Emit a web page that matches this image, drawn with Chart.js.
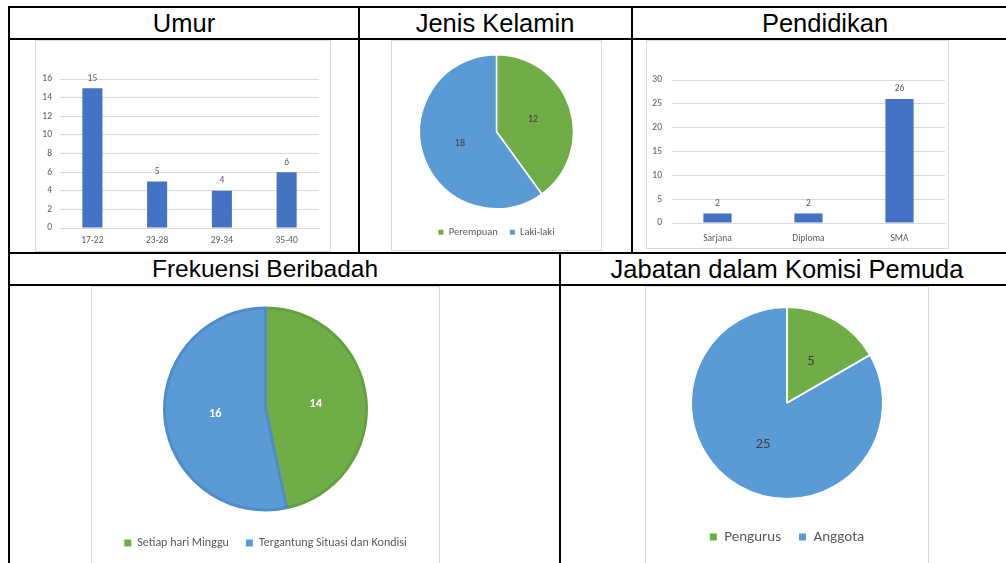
<!DOCTYPE html>
<html>
<head>
<meta charset="utf-8">
<script src="https://cdn.jsdelivr.net/npm/chart.js@4.4.1/dist/chart.umd.min.js"></script>
<style>
  html, body { margin: 0; padding: 0; background: #fff; }
  body { width: 1006px; height: 563px; position: relative; overflow: hidden; font-family: "Liberation Sans", Arial, sans-serif; }
  .ln { position: absolute; background: #000; }
  .title { position: absolute; width: 420px; height: 30px; line-height: 30px; text-align: center; font-size: 25.5px; color: #000; white-space: nowrap; }
  .box { position: absolute; box-sizing: border-box; border: 1px solid #d9d9d9; background: #fff; }
  .box canvas { display: block; }
</style>
</head>
<body>
<!-- table lines -->
<div class="ln" style="left:8px;top:6px;width:1010px;height:2px"></div>
<div class="ln" style="left:8px;top:38px;width:1010px;height:2px"></div>
<div class="ln" style="left:8px;top:252px;width:1010px;height:2px"></div>
<div class="ln" style="left:8px;top:284px;width:1010px;height:2px"></div>
<div class="ln" style="left:8px;top:6px;width:2px;height:560px"></div>
<div class="ln" style="left:358px;top:6px;width:2px;height:248px"></div>
<div class="ln" style="left:631px;top:6px;width:2px;height:248px"></div>
<div class="ln" style="left:559px;top:252px;width:2px;height:314px"></div>

<!-- headers -->
<div class="title" style="left:-26px;top:8px">Umur</div>
<div class="title" style="left:285px;top:8px">Jenis Kelamin</div>
<div class="title" style="left:615px;top:8px">Pendidikan</div>
<div class="title" style="left:55px;top:254px;font-size:24.5px">Frekuensi Beribadah</div>
<div class="title" style="left:577px;top:254px">Jabatan dalam Komisi Pemuda</div>

<!-- chart boxes -->
<div class="box" style="left:35px;top:40px;width:296px;height:212px"><canvas id="umurChart"></canvas></div>
<div class="box" style="left:391px;top:40px;width:211px;height:211px"><canvas id="kelaminChart"></canvas></div>
<div class="box" style="left:646px;top:40px;width:303px;height:209px"><canvas id="pendidikanChart"></canvas></div>
<div class="box" style="left:91px;top:286px;width:349px;height:290px"><canvas id="ibadahChart"></canvas></div>
<div class="box" style="left:645px;top:286px;width:284px;height:290px"><canvas id="jabatanChart"></canvas></div>

<script>
// Data
const umurLabels = ['17-22', '23-28', '29-34', '35-40'];
const umurValues = [15, 5, 4, 6];

const kelaminLabels = ['Perempuan', 'Laki-laki'];
const kelaminValues = [12, 18];

const pendidikanLabels = ['Sarjana', 'Diploma', 'SMA'];
const pendidikanValues = [2, 2, 26];

const ibadahLabels = ['Setiap hari Minggu', 'Tergantung Situasi dan Kondisi'];
const ibadahValues = [14, 16];

const jabatanLabels = ['Pengurus', 'Anggota'];
const jabatanValues = [5, 25];

// Colors
const barBlue = '#4472C4';
const green = '#70AD47';
const blue = '#5B9BD5';
const gridColor = '#d9d9d9';
const textGray = '#595959';
const chartFont = 'Carlito, Lato, "Open Sans", sans-serif';

Chart.defaults.font.family = chartFont;
Chart.defaults.color = textGray;
Chart.defaults.animation = false;
Chart.defaults.maintainAspectRatio = false;
Chart.defaults.plugins.tooltip.enabled = false;

// draws the value on each bar / slice
const valueLabels = {
    id: 'valueLabels',
    afterDatasetsDraw(chart, args, opts) {
        const ctx = chart.ctx;
        const meta = chart.getDatasetMeta(0);
        const data = chart.data.datasets[0].data;
        ctx.save();
        ctx.font = (opts.weight || 'normal') + ' ' + opts.size + 'px ' + chartFont;
        ctx.fillStyle = opts.color;
        ctx.textAlign = 'center';
        ctx.textBaseline = 'middle';
        meta.data.forEach((el, i) => {
            let pos;
            if (chart.config.type === 'bar') {
                pos = { x: el.x, y: el.y - opts.offset };
            } else {
                pos = el.tooltipPosition(true);
            }
            ctx.fillText(data[i], pos.x, pos.y);
        });
        ctx.restore();
    }
};
Chart.register(valueLabels);

// legend boxes without border
function plainLabels(chart) {
    const items = Chart.overrides.pie.plugins.legend.labels.generateLabels(chart);
    return items.map(it => Object.assign(it, { lineWidth: 0, strokeStyle: 'rgba(0,0,0,0)' }));
}

function barChart(id, labels, values, yMax, yStep, opts) {
    return new Chart(document.getElementById(id), {
        type: 'bar',
        data: {
            labels: labels,
            datasets: [{
                data: values,
                backgroundColor: barBlue,
                categoryPercentage: 1,
                barPercentage: 0.31
            }]
        },
        options: {
            layout: { padding: opts.padding },
            plugins: {
                legend: { display: false },
                valueLabels: { color: textGray, size: opts.font, offset: 10 }
            },
            scales: {
                x: {
                    grid: { display: false, drawTicks: false },
                    border: { color: gridColor },
                    ticks: { font: { size: opts.font }, padding: opts.xPad },
                    afterFit: s => { s.height = opts.xHeight; }
                },
                y: {
                    min: 0,
                    max: yMax,
                    border: { display: false },
                    grid: { color: gridColor, drawTicks: false },
                    ticks: { stepSize: yStep, font: { size: opts.font }, padding: opts.yPad },
                    afterFit: s => { s.width = opts.yWidth; }
                }
            }
        }
    });
}

function pieChart(id, labels, values, opts) {
    return new Chart(document.getElementById(id), {
        type: 'pie',
        data: {
            labels: labels,
            datasets: [{
                data: values,
                backgroundColor: [green, blue],
                borderColor: opts.borderColor,
                borderWidth: opts.borderWidth
            }]
        },
        options: {
            radius: opts.radius,
            layout: { padding: opts.padding },
            plugins: {
                legend: {
                    position: 'bottom',
                    labels: {
                        boxWidth: opts.box,
                        boxHeight: opts.box,
                        padding: opts.legendPad,
                        color: textGray,
                        font: { size: opts.legendFont },
                        generateLabels: plainLabels
                    }
                },
                valueLabels: { color: opts.labelColor, size: opts.labelFont, weight: opts.labelWeight }
            }
        }
    });
}

barChart('umurChart', umurLabels, umurValues, 16, 2, {
    padding: { top: 38, right: 11, left: 0, bottom: 0 },
    font: 9.5, xPad: 7, yPad: 8, xHeight: 23, yWidth: 24
});

barChart('pendidikanChart', pendidikanLabels, pendidikanValues, 30, 5, {
    padding: { top: 39, right: 3, left: 0, bottom: 0 },
    font: 9.5, xPad: 10, yPad: 10, xHeight: 25, yWidth: 25
});

pieChart('kelaminChart', kelaminLabels, kelaminValues, {
    radius: 77, padding: { top: 7.5, bottom: 2.5 }, borderColor: '#fff', borderWidth: 1.5,
    box: 5, legendPad: 12, legendFont: 10.5, labelColor: '#404040', labelFont: 10
});

pieChart('ibadahChart', ibadahLabels, ibadahValues, {
    radius: 101, padding: { top: 11, bottom: 16 }, borderColor: ['#64a03e', '#4f8dca'], borderWidth: 3,
    box: 7, legendPad: 17, legendFont: 12, labelColor: '#fff', labelFont: 12.5, labelWeight: 'bold'
});

pieChart('jabatanChart', jabatanLabels, jabatanValues, {
    radius: 96, padding: { top: 7.5, bottom: 20.5 }, borderColor: '#fff', borderWidth: 2,
    box: 7, legendPad: 18, legendFont: 15, labelColor: '#404040', labelFont: 15
});
</script>
</body>
</html>
